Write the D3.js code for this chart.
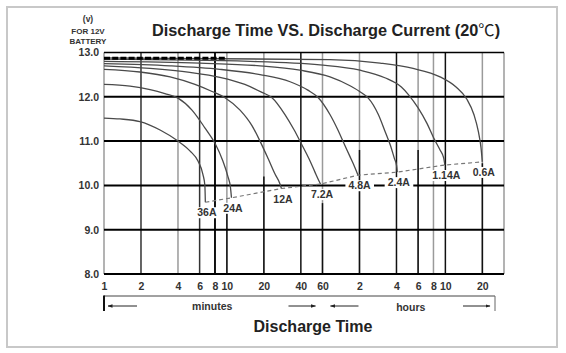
<!DOCTYPE html>
<html><head><meta charset="utf-8">
<script src="https://cdn.jsdelivr.net/npm/d3@7"></script>
<style>
html,body{margin:0;padding:0;background:#fff;}
svg{display:block;font-family:"Liberation Sans",Arial,Helvetica,sans-serif;}
</style></head><body>
<svg id="chart" width="566" height="353"></svg>
<script>
// ---- data (time in minutes, voltage in V) ----
const currents = ["36A","24A","12A","7.2A","4.8A","2.4A","1.14A","0.6A"];
const curve36A = [[1,11.52],[1.35,11.5],[1.96,11.44],[2.86,11.25],[4.0,11.0],[5.0,10.78],[5.82,10.55],[6.38,10.25],[6.62,10.0],[6.68,9.62]];
const curve24A = [[1,12.28],[1.63,12.24],[2.37,12.16],[3.13,12.07],[4.0,11.97],[5.2,11.7],[6.62,11.3],[8.0,10.95],[9.28,10.55],[10.2,10.2],[10.7,9.95],[10.9,9.72]];
const curve12A = [[1,12.62],[1.96,12.56],[3.45,12.45],[5.5,12.28],[7.58,12.12],[9.65,11.98],[12.8,11.7],[16.0,11.35],[18.6,11.0],[21.7,10.6],[24.7,10.25],[26.9,10.05],[27.8,9.93]];
const curve7_2A = [[1,12.7],[2.37,12.64],[5.0,12.55],[8.77,12.44],[14.0,12.28],[19.3,12.1],[23.3,11.98],[29.7,11.6],[35.3,11.25],[40.2,10.95],[46.6,10.6],[52.1,10.3],[56.2,10.1],[57.8,10.03]];
const curve4_8A = [[1,12.75],[3.45,12.7],[8.77,12.62],[18.6,12.5],[32.7,12.34],[45.6,12.15],[55.0,11.99],[69,11.6],[80.1,11.25],[89.6,10.95],[100.5,10.65],[110.3,10.4],[116.7,10.23]];
const curve2_4A = [[1,12.8],[6.04,12.76],[18.6,12.7],[39.3,12.6],[69.1,12.45],[100.5,12.25],[126.4,12.08],[141.5,11.97],[170.8,11.6],[194.9,11.2],[214.4,10.9],[231.3,10.6],[240.3,10.45],[243.6,10.3]];
const curve1_14A = [[1,12.85],[15.4,12.8],[57.2,12.72],[121,12.6],[193,12.43],[263,12.22],[300,12.05],[360,11.75],[425,11.4],[486,11.05],[543,10.8],[581,10.62],[594,10.46]];
const curve0_6A = [[1,12.88],[69,12.84],[176.6,12.76],[327.6,12.64],[543,12.45],[733,12.22],[895,11.95],[1024,11.6],[1116,11.2],[1170,10.85],[1199,10.53]];
const curves = [curve36A, curve24A, curve12A, curve7_2A, curve4_8A, curve2_4A, curve1_14A, curve0_6A];
const topDash = [[1,12.87],[10,12.87]];

const voltTicks = [8,9,10,11,12,13];
const timeTicks = [1,2,4,6,8,10,20,40,60,120,240,360,480,600,1200];
const timeTickLabels = ["1","2","4","6","8","10","20","40","60","2","4","6","8","10","20"];

// ---- layout / style ----
const svg = d3.select("#chart");
const x = d3.scaleLog().domain([1,1800]).range([104,504]);
const y = d3.scaleLinear().domain([8,13]).range([274,52.5]);
const BLACK = "#111", GRAY = "#9a9a9a";

// outer frame
svg.append("rect").attr("x",7).attr("y",7).attr("width",550).attr("height",340)
  .attr("fill","none").attr("stroke","#c8c8c8").attr("stroke-width",2);

// vertical grid style: [upper colour, voltage below which line is black]
const vStyle = {
  1:[GRAY,null], 2:["#333",null], 4:[GRAY,null], 6:["#333",null], 8:[BLACK,null],
  10:[GRAY,9.6], 20:[GRAY,10.2], 40:[BLACK,null], 60:[GRAY,9.6], 120:[GRAY,10.8],
  240:[BLACK,null], 360:[GRAY,10.8], 480:[GRAY,null], 600:[BLACK,null], 1200:[GRAY,10.5], 1800:[GRAY,null]
};
const gGrid = svg.append("g");
[...timeTicks,1800].forEach(t=>{
  const [c,split] = vStyle[t];
  gGrid.append("line").attr("x1",x(t)).attr("x2",x(t)).attr("y1",y(13)).attr("y2",y(8))
    .attr("stroke",c).attr("stroke-width",t===8?2:1.5);
  if(split!==null){
    gGrid.append("line").attr("x1",x(t)).attr("x2",x(t)).attr("y1",y(split)).attr("y2",y(8))
      .attr("stroke",BLACK).attr("stroke-width",1.5);
  }
});
voltTicks.forEach(v=>{
  gGrid.append("line").attr("x1",x(1)).attr("x2",x(1800)).attr("y1",y(v)).attr("y2",y(v))
    .attr("stroke","#000").attr("stroke-width",v===13?1.5:2);
});

// axes (labels only)
const yAxis = svg.append("g").attr("transform",`translate(${x(1)},0)`)
  .call(d3.axisLeft(y).tickValues(voltTicks).tickFormat(d3.format(".1f")).tickSize(0).tickPadding(5));
const xAxis = svg.append("g").attr("transform",`translate(0,${y(8)})`)
  .call(d3.axisBottom(x).tickValues(timeTicks).tickFormat((d,i)=>timeTickLabels[i]).tickSize(0).tickPadding(9));
[yAxis,xAxis].forEach(g=>{
  g.select(".domain").remove();
  g.selectAll("text").attr("font-size",10.5).attr("font-weight","bold").attr("fill","#333")
    .attr("font-family","'Liberation Sans',Arial,sans-serif");
});

// label backgrounds (cover grid)
const ends = curves.map(c=>c[c.length-1]);
const gLab = svg.append("g");
const labelTexts = [];
ends.forEach((e,i)=>{
  const t = gLab.append("text").attr("x",x(e[0])+1.5).attr("y",y(e[1])+14)
    .attr("text-anchor","middle").attr("font-size",10.5).attr("font-weight","bold")
    .attr("fill","#333").text(currents[i]);
  labelTexts.push(t);
});
labelTexts.forEach(t=>{
  const b = t.node().getBBox();
  gLab.insert("rect","text").attr("x",b.x-3).attr("y",b.y+1).attr("width",b.width+6).attr("height",b.height-1)
    .attr("fill","#fff");
});
gLab.raise();

// curves
const line = d3.line().x(d=>x(d[0])).y(d=>y(d[1])).curve(d3.curveMonotoneX);
const gCurves = svg.insert("g", () => gLab.node());
curves.forEach(c=>{
  gCurves.append("path").attr("d",line(c)).attr("fill","none")
    .attr("stroke","#4a4a4a").attr("stroke-width",1.3);
});
// cut-off dashed line through end points
gCurves.append("path").attr("d",d3.line().x(d=>x(d[0])).y(d=>y(d[1]))(ends))
  .attr("fill","none").attr("stroke","#777").attr("stroke-width",1.2).attr("stroke-dasharray","4,3");
// heavy dashed top line
gCurves.append("path").attr("d",d3.line().x(d=>x(d[0])).y(d=>y(d[1]))(topDash))
  .attr("fill","none").attr("stroke","#000").attr("stroke-width",3).attr("stroke-dasharray","6,2.2");

// title
const title = svg.append("text").attr("x",152).attr("y",36).attr("font-size",16.3).attr("font-weight","bold")
  .attr("fill","#222");
title.append("tspan").text("Discharge Time VS. Discharge Current (20");
title.append("tspan").attr("font-family","'Noto Sans CJK SC'").attr("font-weight","normal").text("℃");
title.append("tspan").text(")");

// y header
[["(v)",22,8.5],["FOR 12V",33.5,8],["BATTERY",43.5,8]].forEach(([s,yy,fs])=>{
  svg.append("text").attr("x",88).attr("y",yy).attr("text-anchor","middle")
    .attr("font-size",fs).attr("font-weight","bold").attr("fill","#333").text(s);
});

// bracket + arrows below x axis
const bx0 = x(1), bx1 = x(1800)-9, by = 296;
svg.append("line").attr("x1",bx0).attr("x2",bx1).attr("y1",by).attr("y2",by).attr("stroke","#444").attr("stroke-width",1);
svg.append("line").attr("x1",bx0).attr("x2",bx0).attr("y1",by-0.5).attr("y2",311).attr("stroke","#111").attr("stroke-width",2);
svg.append("line").attr("x1",bx1).attr("x2",bx1).attr("y1",by).attr("y2",311).attr("stroke","#666").attr("stroke-width",1);

const defs = svg.append("defs");
defs.append("marker").attr("id","ah").attr("viewBox","0 0 10 10").attr("refX",9).attr("refY",5)
  .attr("markerWidth",5).attr("markerHeight",5).attr("orient","auto-start-reverse")
  .append("path").attr("d","M0,1.5 L10,5 L0,8.5 Z").attr("fill","#222");
function arrow(xa, xb, dir){
  const l = svg.append("line").attr("x1",xa).attr("x2",xb).attr("y1",306).attr("y2",306)
    .attr("stroke","#222").attr("stroke-width",1);
  if(dir<0) l.attr("marker-start","url(#ah)"); else l.attr("marker-end","url(#ah)");
}
const xm = x(60);
arrow(bx0+4, bx0+33, -1);
arrow(xm-34, xm-7, 1);
arrow(xm+8, xm+36, -1);
arrow(bx1-32, bx1-5, 1);
svg.append("text").attr("x",(bx0+xm)/2-1).attr("y",309.5).attr("text-anchor","middle")
  .attr("font-size",10.5).attr("font-weight","bold").attr("fill","#333").text("minutes");
svg.append("text").attr("x",(xm+bx1)/2+2).attr("y",310.5).attr("text-anchor","middle")
  .attr("font-size",10.5).attr("font-weight","bold").attr("fill","#333").text("hours");

// x title
svg.append("text").attr("x",313).attr("y",332).attr("text-anchor","middle")
  .attr("font-size",16).attr("font-weight","bold").attr("fill","#222").text("Discharge Time");
</script>
</body></html>
